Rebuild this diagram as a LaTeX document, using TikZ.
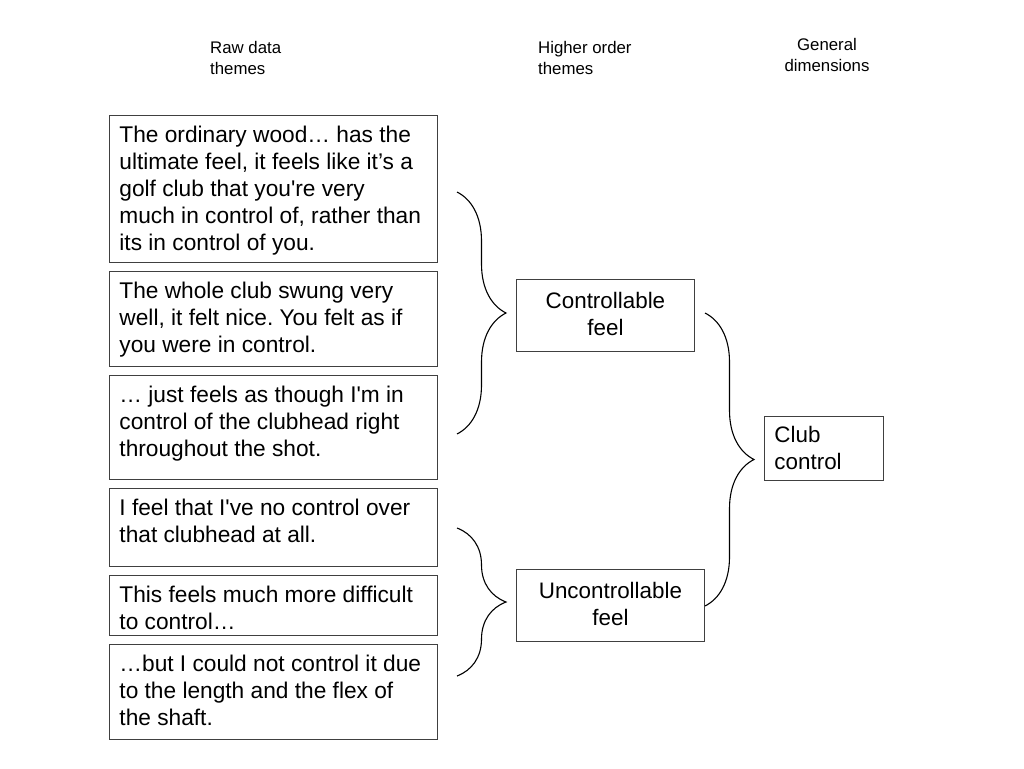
\documentclass[tikz,border=0pt]{standalone}
\usepackage{fontspec}
\setmainfont{Liberation Sans}
\usetikzlibrary{decorations.pathreplacing}
\newcommand{\qtext}[2]{\parbox[c][#1][t]{308pt}{\raggedright\frenchspacing #2}}
\newcommand{\sq}{\textquotesingle}
\begin{document}
\begin{tikzpicture}[x=1pt,y=-1pt,
  quote/.style={draw=black!75, line width=0.9pt, anchor=north west,
    inner xsep=10pt, inner ysep=10.5pt,
    font=\fontsize{22.7}{27}\selectfont},
  theme/.style={draw=black!75, line width=0.9pt, anchor=north west, inner sep=0pt,
    font=\fontsize{22.4}{27}\selectfont},
  head/.style={anchor=north west, inner sep=0pt, align=left, font=\fontsize{16.8}{21}\selectfont},
  bracket/.style={draw=black, line width=1.1pt, decorate,
    decoration={brace, amplitude=49pt, aspect=0.5}}]
\useasboundingbox (0,0) rectangle (1024,768);
% headers
\node[head] (h1) at (210,41) {Raw data\\themes};
\node[head] (h2) at (538,41) {Higher order\\themes};
\node[head, align=center, anchor=north] (h3) at (827,38) {General\\dimensions};
% quotes
\node[quote] (q1) at (109,115) {\qtext{126pt}{The ordinary wood… has the\\ultimate feel, it feels like it’s a\\golf club that you\sq re very\\much in control of, rather than\\its in control of you.}};
\node[quote] (q2) at (109,271) {\qtext{74pt}{The whole club swung very\\well, it felt nice. You felt as if\\you were in control.}};
\node[quote] (q3) at (109,375) {\qtext{83pt}{… just feels as though I\sq m in\\control of the clubhead right\\throughout the shot.}};
\node[quote] (q4) at (109,488) {\qtext{57pt}{I feel that I\sq ve no control over\\that clubhead at all.}};
\node[quote] (q5) at (109,575) {\qtext{39pt}{This feels much more difficult\\to control…}};
\node[quote] (q6) at (109,644) {\qtext{74pt}{…but I could not control it due\\to the length and the flex of\\the shaft.}};
% higher order themes
\node[theme, minimum width=178pt, minimum height=72pt, align=center] (t1) at (516,279) {Controllable\\feel\rule[-4pt]{0pt}{4pt}};
\node[theme, minimum width=188pt, minimum height=72pt, align=center] (t2) at (516,569) {Uncontrollable\\feel\rule[-4pt]{0pt}{4pt}};
% general dimension
\node[theme, minimum width=119pt, minimum height=64pt, text width=99pt, inner xsep=10pt, align=left] (g1) at (764,416) {Club\\control};
% brace anchors
\coordinate (b1t) at (457,192);
\coordinate (b1b) at (457,434);
\coordinate (b2t) at (457,528);
\coordinate (b2b) at (457,676);
\coordinate (b3t) at (705,313);
\coordinate (b3b) at (705,606);
\draw[bracket] (b1t) -- (b1b);
\draw[bracket] (b2t) -- (b2b);
\draw[bracket] (b3t) -- (b3b);
\end{tikzpicture}
\end{document}
